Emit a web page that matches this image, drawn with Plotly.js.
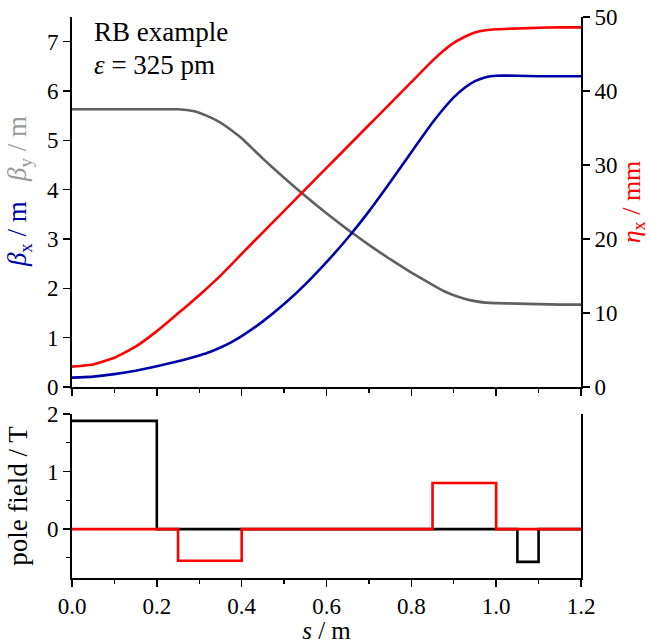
<!DOCTYPE html>
<html>
<head>
<meta charset="utf-8">
<script src="https://cdn.plot.ly/plotly-3.0.1.min.js"></script>
<style>
html,body{margin:0;padding:0;background:#fff;}
#chart{width:649px;height:644px;}
</style>
</head>
<body>
<div id="chart"></div>
<script>
// position along the line / m
const s = [0, 0.05, 0.1, 0.15, 0.2, 0.25, 0.275, 0.3, 0.325, 0.35, 0.375, 0.4,
           0.45, 0.5, 0.55, 0.6, 0.65, 0.7, 0.75, 0.8, 0.85,
           0.875, 0.9, 0.925, 0.95, 0.975, 1.0, 1.05, 1.1, 1.15, 1.2];
// horizontal beta / m
const betaX = [0.19, 0.21, 0.26, 0.33, 0.42, 0.52, 0.575, 0.64, 0.71, 0.80, 0.905, 1.03,
               1.33, 1.68, 2.08, 2.53, 3.02, 3.56, 4.15, 4.76, 5.36,
               5.63, 5.87, 6.06, 6.20, 6.28, 6.31, 6.31, 6.30, 6.30, 6.30];
// vertical beta / m
const betaY = [5.63, 5.63, 5.63, 5.63, 5.63, 5.63, 5.61, 5.56, 5.47, 5.36, 5.21, 5.04,
               4.63, 4.24, 3.87, 3.52, 3.19, 2.88, 2.59, 2.32, 2.07,
               1.95, 1.86, 1.79, 1.74, 1.71, 1.70, 1.69, 1.68, 1.67, 1.67];
// horizontal dispersion / mm
const etaX = [2.75, 3.05, 3.95, 5.45, 7.55, 9.95, 11.15, 12.4, 13.7, 15.05, 16.5, 18.0,
              20.9, 23.8, 26.7, 29.6, 32.5, 35.4, 38.3, 41.2, 44.1,
              45.4, 46.5, 47.3, 47.9, 48.2, 48.35, 48.45, 48.55, 48.6, 48.6];
// pole fields / T (step functions, value holds until next edge)
const dipoleS = [0, 0.2, 1.05, 1.1, 1.2];
const dipoleB = [1.88, 0, -0.57, 0, 0];
const quadS = [0, 0.25, 0.4, 0.85, 1.0, 1.2];
const quadB = [0, -0.55, 0, 0.8, 0, 0];

const BLUE = '#0000aa', GREY = '#606060', RED = '#ff0000';
const FONT = 'Liberation Serif';

const traces = [
  {x: s, y: betaY, xaxis: 'x', yaxis: 'y', mode: 'lines', name: 'βy',
   line: {color: GREY, width: 2.6, shape: 'spline', smoothing: 0.4}},
  {x: s, y: betaX, xaxis: 'x', yaxis: 'y', mode: 'lines', name: 'βx',
   line: {color: BLUE, width: 2.6, shape: 'spline', smoothing: 0.4}},
  {x: s, y: etaX, xaxis: 'x', yaxis: 'y2', mode: 'lines', name: 'ηx',
   line: {color: RED, width: 2.6, shape: 'spline', smoothing: 0.4}},
  {x: dipoleS, y: dipoleB, xaxis: 'x2', yaxis: 'y3', mode: 'lines', name: 'dipole',
   line: {color: '#000000', width: 2.6, shape: 'hv'}},
  {x: quadS, y: quadB, xaxis: 'x2', yaxis: 'y3', mode: 'lines', name: 'quadrupole',
   line: {color: RED, width: 2.6, shape: 'hv'}}
];

const tickFont = {family: FONT, size: 23, color: '#000'};
const axCommon = {
  showgrid: false, zeroline: false, showline: true, linecolor: '#000', linewidth: 1.8,
  ticks: 'outside', ticklen: 7, tickwidth: 1.5, tickcolor: '#000', tickfont: tickFont
};

const layout = {
  width: 649, height: 644,
  margin: {l: 72, r: 68, t: 17, b: 66},
  paper_bgcolor: '#fff', plot_bgcolor: '#fff',
  showlegend: false,
  font: {family: FONT, size: 23, color: '#000'},
  xaxis: Object.assign({}, axCommon, {
    domain: [0, 1], anchor: 'y', range: [0, 1.2], dtick: 0.2, tick0: 0,
    showticklabels: false,
    minor: {dtick: 0.1, ticks: 'outside', ticklen: 4, tickwidth: 1.2, tickcolor: '#000'}
  }),
  yaxis: Object.assign({}, axCommon, {
    domain: [0.3405, 1], anchor: 'x', range: [0, 7.5], dtick: 1, tick0: 0
  }),
  yaxis2: Object.assign({}, axCommon, {
    overlaying: 'y', side: 'right', anchor: 'x', range: [0, 50], dtick: 10, tick0: 0,
    title: {text: '<i>η</i><sub>x</sub> / mm', font: {family: FONT, size: 26, color: RED}, standoff: 8}
  }),
  xaxis2: Object.assign({}, axCommon, {
    domain: [0, 1], anchor: 'y3', range: [0, 1.2], dtick: 0.2, tick0: 0, tickformat: '.1f',
    minor: {dtick: 0.1, ticks: 'outside', ticklen: 4, tickwidth: 1.2, tickcolor: '#000'},
    title: {text: '<i>s</i> / m', font: {family: FONT, size: 25}, standoff: 4}
  }),
  yaxis3: Object.assign({}, axCommon, {
    domain: [0, 0.2923], anchor: 'x2', range: [-0.85, 2], dtick: 1, tick0: 0, mirror: true,
    minor: {dtick: 0.5, ticks: 'outside', ticklen: 4, tickwidth: 1.2, tickcolor: '#000'},
    title: {text: 'pole field / T', font: {family: FONT, size: 27}, standoff: 12}
  }),
  annotations: [
    {xref: 'paper', yref: 'paper', x: -0.104, y: 0.688, xanchor: 'center', yanchor: 'middle',
     textangle: -90, showarrow: false,
     text: '<span style="color:#0000aa"><i>β</i><sub>x</sub> / m</span>   <span style="color:#9a9a9a"><i>β</i><sub>y</sub> / m</span>',
     font: {family: FONT, size: 27, color: '#000'}},
    {xref: 'paper', yref: 'paper', x: 0.04, y: 0.9733, xanchor: 'left', yanchor: 'middle',
     showarrow: false, align: 'left', text: 'RB example',
     font: {family: FONT, size: 27, color: '#000'}},
    {xref: 'paper', yref: 'paper', x: 0.04, y: 0.9144, xanchor: 'left', yanchor: 'middle',
     showarrow: false, align: 'left', text: '<i>ε</i> = 325 pm',
     font: {family: FONT, size: 27, color: '#000'}}
  ]
};

Plotly.newPlot('chart', traces, layout, {displayModeBar: false, staticPlot: true});
</script>
</body>
</html>
